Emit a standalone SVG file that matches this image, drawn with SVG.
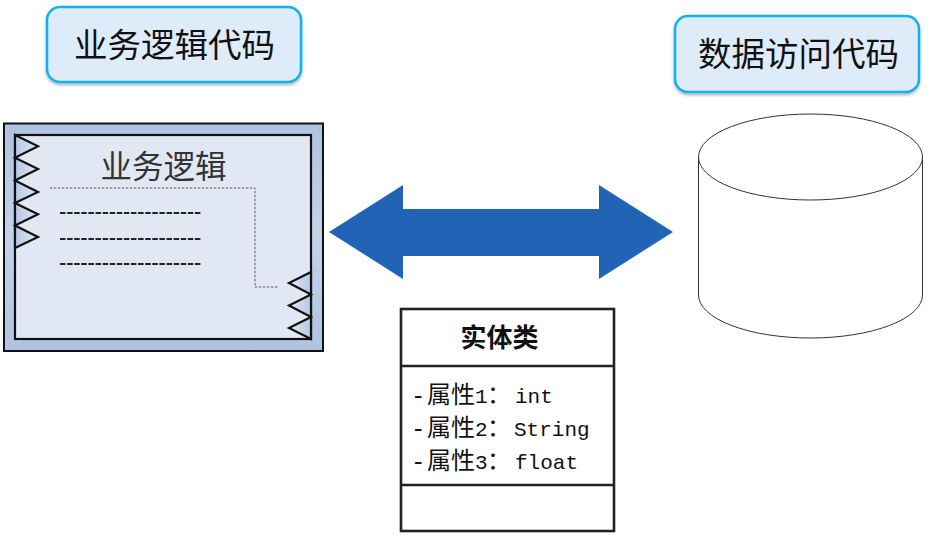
<svg xmlns="http://www.w3.org/2000/svg" width="928" height="535" viewBox="0 0 928 535">
<style>
text{font-family:"Noto Sans CJK SC","Liberation Sans",sans-serif;fill:#111}
.title{font-size:33.5px;text-anchor:middle}
.callout{fill:#deebf9;stroke:#0cb2ee;stroke-width:2.5px;filter:url(#sh)}
.tooth{stroke:#111;stroke-width:2.2px;stroke-linejoin:miter}
.dash{stroke:#222;stroke-width:2px;stroke-dasharray:5.500 1.600;fill:none}
.dot{stroke:#555;stroke-width:1px;stroke-dasharray:2.4 1.6;fill:none}
.box{fill:#fff;stroke:#222;stroke-width:2.6px}
.attr{font-size:24px}
.m{font-family:"Liberation Mono",monospace;font-size:21px}
.d{font-family:"Liberation Mono",monospace;font-size:24px}
.cyl{fill:#fff;stroke:#333;stroke-width:1px}
</style>
<defs>
<filter id="sh" x="-10%" y="-20%" width="120%" height="140%"><feDropShadow dx="0" dy="2" stdDeviation="1.6" flood-color="#000" flood-opacity=".3"/></filter>
<linearGradient id="fr" x1="0" y1="0" x2="0" y2="1"><stop offset="0" stop-color="#aec2e0"/><stop offset=".5" stop-color="#c5d3e8"/><stop offset="1" stop-color="#afc3e1"/></linearGradient>
<linearGradient id="tl" x1="0" y1="0" x2="1" y2="0"><stop offset="0" stop-color="#b4c8e4"/><stop offset="1" stop-color="#e4eaf4"/></linearGradient>
<linearGradient id="tr" x1="1" y1="0" x2="0" y2="0"><stop offset="0" stop-color="#b4c8e4"/><stop offset="1" stop-color="#e4eaf4"/></linearGradient>
</defs>
<g id="biz-label"><rect class="callout" x="47" y="7" width="254" height="75" rx="13"/><text class="title" x="174.500" y="57">业务逻辑代码</text></g>
<g id="data-label"><rect class="callout" x="675" y="16" width="244" height="76" rx="13"/><text class="title" x="798.500" y="66">数据访问代码</text></g>
<g id="component">
<rect x="4" y="123.500" width="319" height="227.500" fill="url(#fr)" stroke="#111" stroke-width="2"/>
<rect x="15" y="135" width="296" height="204" fill="#e2e8f3" stroke="#111" stroke-width="2.200"/>
<path class="tooth" fill="url(#tl)" d="M15 135L38 146.300L15 157.800L38 169L15 180.500L38 192L15 203L38 214.300L15 225.500L38 237L15 248Z"/>
<path class="tooth" fill="url(#tr)" d="M311 272L289 283L311 294.500L289 305.500L311 317L289 328L311 339Z"/>
<text x="163.500" y="178" font-size="31.500" text-anchor="middle" style="fill:#333">业务逻辑</text>
<path class="dot" d="M50 188H255V287H278"/>
<path class="dash" d="M60 213H202M60 239H202M60 264H202"/>
</g>
<g id="connectors"><path fill="#2163b5" d="M329 232L403 185V209H599V185L673 232L599 279V256H403V279Z"/></g>
<g id="database">
<path class="cyl" d="M698.500 157V295A112 43 0 0 0 922.500 295V157Z"/>
<ellipse class="cyl" cx="810.500" cy="157" rx="112" ry="43"/>
</g>
<g id="entity">
<rect class="box" x="401" y="309" width="213" height="222"/>
<path class="box" d="M400 366H615M400 485H615"/>
<text x="499.500" y="347" font-size="26" font-weight="700" text-anchor="middle">实体类</text>
<text class="attr" y="403"><tspan class="d" x="411">-</tspan><tspan x="427">属性</tspan><tspan class="m" x="475">1</tspan><tspan x="487">：</tspan><tspan class="m" x="515">int</tspan></text>
<text class="attr" y="436"><tspan class="d" x="411">-</tspan><tspan x="427">属性</tspan><tspan class="m" x="475">2</tspan><tspan x="487">：</tspan><tspan class="m" x="514">String</tspan></text>
<text class="attr" y="469"><tspan class="d" x="411">-</tspan><tspan x="427">属性</tspan><tspan class="m" x="475">3</tspan><tspan x="487">：</tspan><tspan class="m" x="515">float</tspan></text>
</g>
</svg>
